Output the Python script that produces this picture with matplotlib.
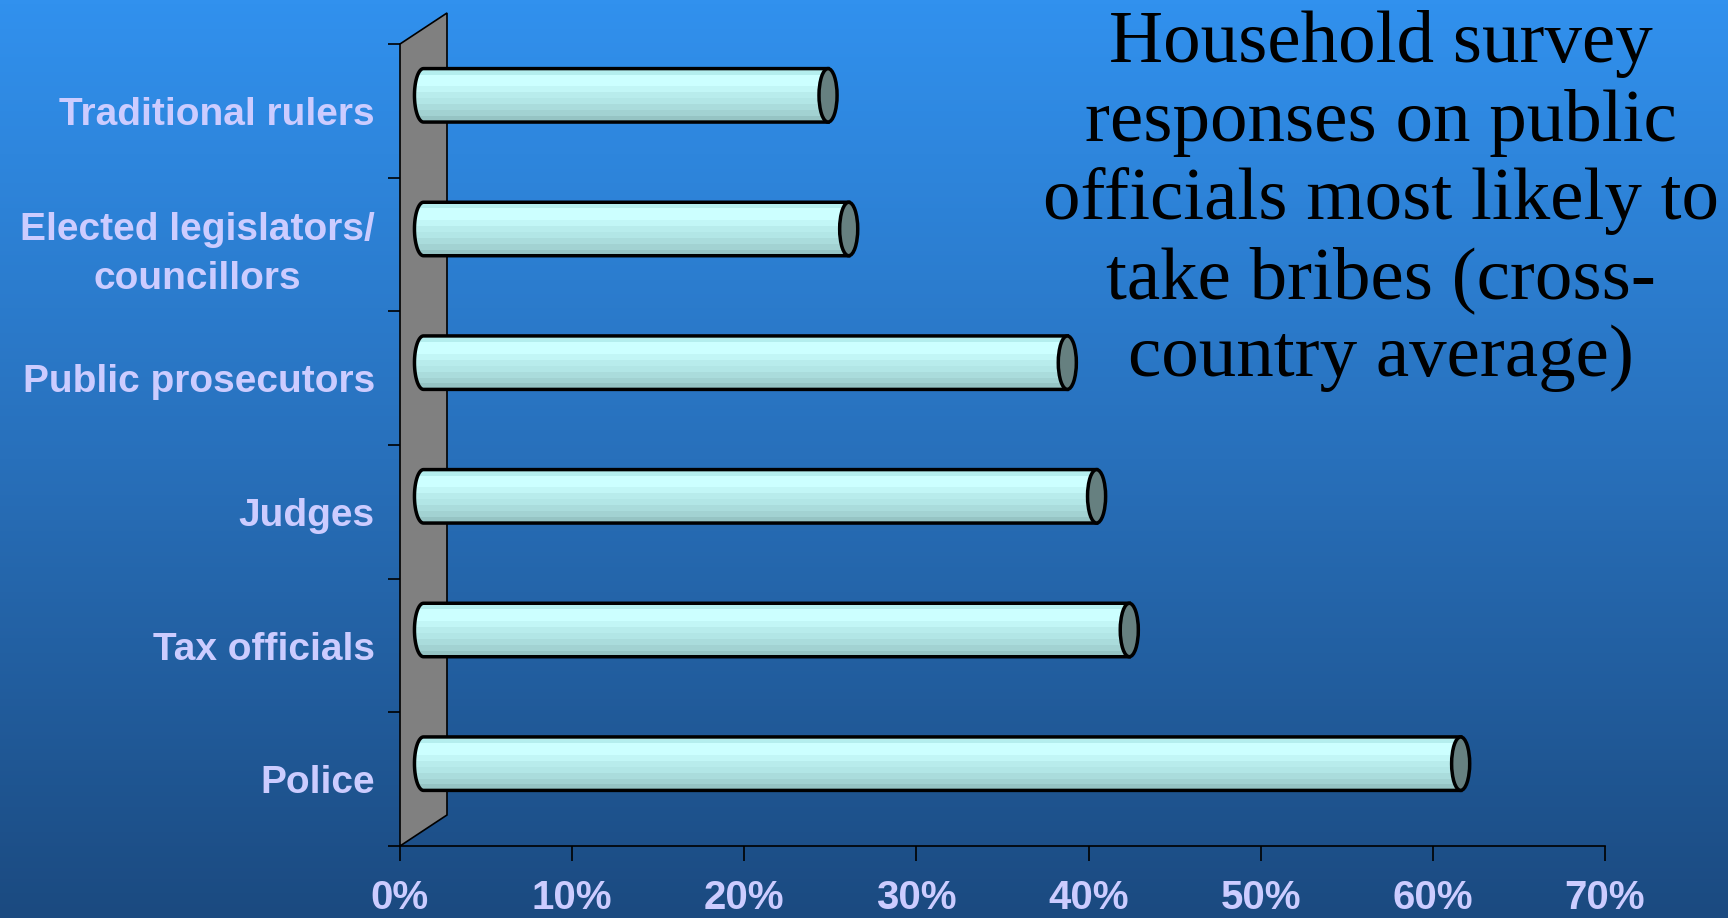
import numpy as np
import matplotlib
matplotlib.use('Agg')
from matplotlib import pyplot as plt
from matplotlib.patches import Polygon, Ellipse, PathPatch, Rectangle
from matplotlib.path import Path
from matplotlib.colors import LinearSegmentedColormap

# survey data, bottom to top
officials = ['Police', 'Tax officials', 'Judges', 'Public prosecutors',
             'Elected legislators/\ncouncillors', 'Traditional rulers']
share = [60.25, 41.0, 39.1, 37.4, 24.7, 23.5]
xticks = [0, 10, 20, 30, 40, 50, 60, 70]
xticklabels = [f'{t}%' for t in xticks]
title = ('Household survey\nresponses on public\nofficials most likely to\n'
         'take bribes (cross-\ncountry average)')

W, H = 1728, 918
fig = plt.figure(figsize=(W / 100, H / 100), dpi=100)

# blue gradient backdrop
bg = fig.add_axes([0, 0, 1, 1], zorder=-5)
cmap = LinearSegmentedColormap.from_list('bg', ['#1b4a80', '#2870bb', '#3191ee'])
grad = np.linspace(0, 1, 256).reshape(-1, 1)
bg.imshow(grad, aspect='auto', cmap=cmap, origin='lower', extent=[0, 1, 0, 1])
bg.axis('off')

ax = fig.add_axes([400 / W, 72 / H, 1205 / W, 802 / H])
ax.patch.set_visible(False)
ax.set_xlim(0, 70)
ax.set_ylim(0, len(officials))

# depth offset of the 3d box, in data units
dx, dy = 2.73, 0.232

wall = Polygon([(0, 0), (dx, dy), (dx, len(officials) + dy), (0, len(officials))],
               closed=True, facecolor='#808080', edgecolor='black', lw=1.2,
               clip_on=False, zorder=1)
ax.add_patch(wall)

bands = ['#b4eeee', '#ccffff', '#ccffff', '#c2f6f6', '#b8ecec',
         '#b2e6e6', '#aadcdc', '#a2d2d2', '#96c4c4']
barh = 0.40
capw = 1.05

for i, v in enumerate(share):
    yc = i + 0.5 + dy / 2
    x0 = dx / 2
    x1 = x0 + v
    top, bot = yc + barh / 2, yc - barh / 2

    # body outline with rounded left end
    t = np.linspace(np.pi / 2, 3 * np.pi / 2, 40)
    arc = np.column_stack([x0 + capw / 2 * np.cos(t), yc + barh / 2 * np.sin(t)])
    verts = np.vstack([[x1, top], arc, [x1, bot], [x1, top]])
    codes = [Path.MOVETO] + [Path.LINETO] * (len(verts) - 2) + [Path.CLOSEPOLY]
    body = PathPatch(Path(verts, codes), facecolor='none', edgecolor='black',
                     lw=2.5, zorder=4, clip_on=False)
    ax.add_patch(body)

    bh = barh / len(bands)
    for k, c in enumerate(bands):
        r = Rectangle((x0 - capw, top - (k + 1) * bh), x1 - x0 + capw, bh,
                      facecolor=c, edgecolor='none', zorder=3)
        ax.add_patch(r)
        r.set_clip_path(body)

    cap = Ellipse((x1, yc), capw, barh, facecolor='#668080', edgecolor='black',
                  lw=2.5, zorder=5, clip_on=False)
    ax.add_patch(cap)

for s in ['top', 'right', 'left']:
    ax.spines[s].set_visible(False)
ax.spines['bottom'].set_linewidth(1.2)

ax.set_xticks(xticks)
ax.set_xticklabels(xticklabels, color='#ccccff', fontsize=29, fontweight='bold',
                   family='Liberation Sans')
ax.tick_params(axis='x', direction='out', length=11, width=1.2, pad=12.5)

ax.set_yticks(range(len(officials) + 1))
ax.set_yticklabels([])
ax.tick_params(axis='y', which='major', direction='out', length=8.5, width=1.2)
ax.set_yticks([i + 0.5 for i in range(len(officials))], officials, minor=True)
ax.tick_params(axis='y', which='minor', length=0, pad=18)
for lbl in ax.get_yticklabels(minor=True):
    lbl.set_color('#ccccff')
    lbl.set_fontsize(28)
    lbl.set_fontweight('bold')
    lbl.set_family('Liberation Sans')
    lbl.set_multialignment('center')
    lbl.set_linespacing(1.45)

fig.text(1381 / W, 1 - 10 / H, title, ha='center', va='top', fontsize=54,
         family='Liberation Serif', color='black', linespacing=1.205)

fig.savefig('out.png', dpi=100)
